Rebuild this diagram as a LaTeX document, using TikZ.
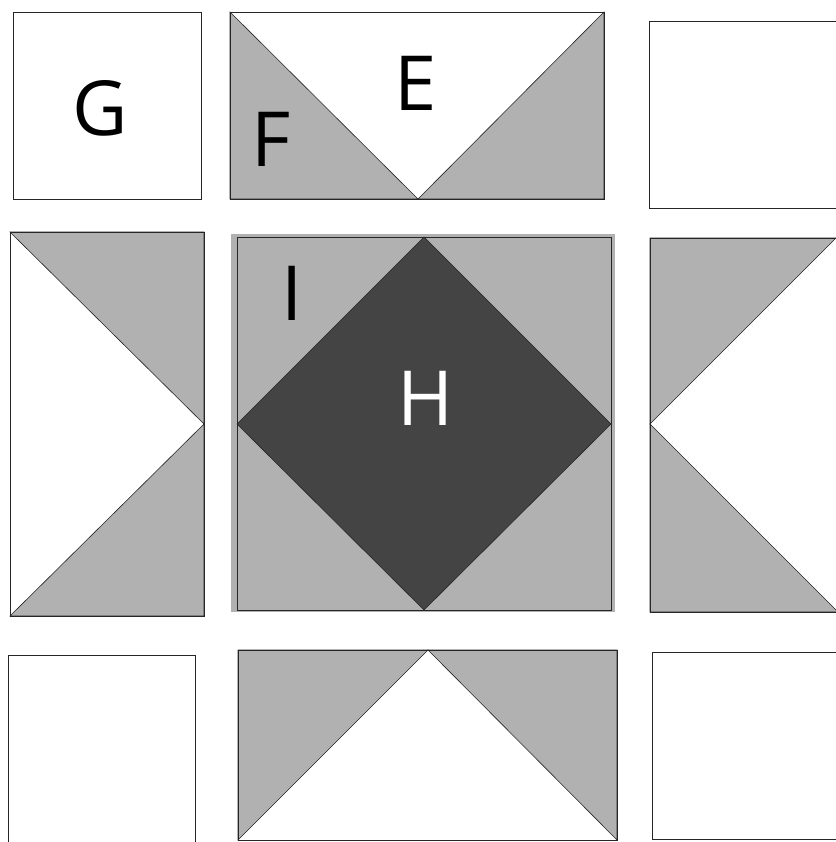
\documentclass[tikz,border=0pt]{standalone}
\usepackage{fontspec}
\setmainfont{Open Sans}
\usetikzlibrary{positioning}
\definecolor{patchgray}{HTML}{B1B1B1}
\definecolor{patchdark}{HTML}{444444}
\tikzset{
  block/.style={draw=black!85, line width=0.9pt},
  halftri/.style={fill=patchgray, draw=black!85, line width=0.6pt},
  letter/.style={font=\fontsize{76}{80}\selectfont, inner sep=0pt}
}

\begin{document}
\begin{tikzpicture}[x=1pt,y=-1pt]
\useasboundingbox[fill=white] (0,0) rectangle (835,842);
% top row
\draw[block] (13,12) rectangle (201,199);
\draw[halftri] (230,12) -- (418,199) -- (230,199) -- cycle;
\draw[halftri] (604,12) -- (604,199) -- (418,199) -- cycle;
\draw[block] (230,12) rectangle (604,199);
\draw[block] (649,21) rectangle (845,208);
% middle row
\draw[halftri] (10,232) -- (204,232) -- (204,424) -- cycle;
\draw[halftri] (204,424) -- (204,616) -- (10,616) -- cycle;
\draw[block] (10,232) rectangle (204,616);
\fill[patchgray] (231,234) rectangle (615,612);
\draw[fill=patchdark, draw=black!85, line width=0.6pt] (424,237) -- (611,424) -- (424,610) -- (237,424) -- cycle;
\draw[block] (237,237) rectangle (611,610);
\draw[halftri] (650,238) -- (836,238) -- (650,424) -- cycle;
\draw[halftri] (650,424) -- (838,612) -- (650,612) -- cycle;
\draw[block] (650,238) rectangle (845,612);
% bottom row
\draw[block] (8,655) rectangle (195,850);
\draw[halftri] (238,650) -- (428,650) -- (238,840) -- cycle;
\draw[halftri] (428,650) -- (617,650) -- (617,840) -- cycle;
\draw[block] (238,650) rectangle (617,840);
\draw[block] (652,652) rectangle (845,839);
% labels
\node[letter] (G) at (100,108) {G};
\node[letter] (E) at (416,83) {E};
\node[letter] (F) at (271,139) {F};
\node[letter] (I) at (292,293) {I};
\node[letter, text=white] (H) at (426,398) {H};
\end{tikzpicture}
\end{document}
